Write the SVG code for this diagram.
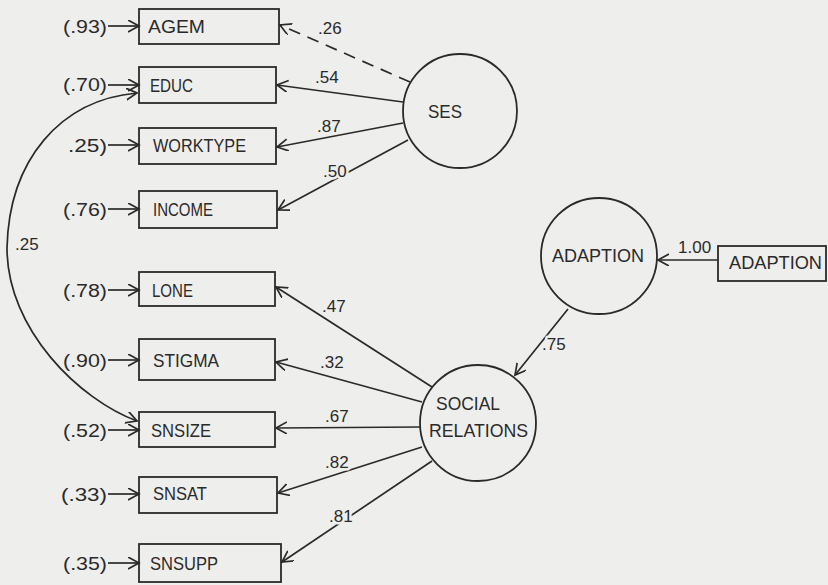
<svg xmlns="http://www.w3.org/2000/svg" width="828" height="585" viewBox="0 0 828 585">
<style>
.bg{fill:#eeeeec}
.box{fill:none;stroke:#2a2a2a;stroke-width:1.8}
.lat{fill:none;stroke:#2a2a2a;stroke-width:1.8}
.nl{font-family:"Liberation Sans",Arial,sans-serif;font-size:18px;fill:#2a2a2a}
.el{font-family:"Liberation Sans",Arial,sans-serif;font-size:18px;fill:#2a2a2a}
.cl{font-family:"Liberation Sans",Arial,sans-serif;font-size:17px;fill:#2a2a2a;paint-order:stroke;stroke:#eeeeec;stroke-width:5px;stroke-linejoin:round}
.ln{fill:none;stroke:#2a2a2a;stroke-width:1.7}
.dash{stroke-dasharray:12 8}
</style>
<defs>
<marker id="arr" markerUnits="userSpaceOnUse" markerWidth="14" markerHeight="14" refX="11" refY="6" orient="auto" viewBox="0 0 14 14">
<path d="M0,0 L11,6 L0,12" fill="none" stroke="#2a2a2a" stroke-width="1.7"/>
</marker>
</defs>
<rect class="bg" x="0" y="0" width="828" height="585"/>

<g id="connectors">
<line class="ln" x1="108" y1="26" x2="139" y2="26" marker-end="url(#arr)"/>
<line class="ln" x1="108" y1="85" x2="139" y2="85" marker-end="url(#arr)"/>
<line class="ln" x1="108" y1="145" x2="139" y2="145" marker-end="url(#arr)"/>
<line class="ln" x1="108" y1="209" x2="139" y2="209" marker-end="url(#arr)"/>
<line class="ln" x1="108" y1="290" x2="139" y2="290" marker-end="url(#arr)"/>
<line class="ln" x1="108" y1="360" x2="139" y2="360" marker-end="url(#arr)"/>
<line class="ln" x1="108" y1="430" x2="139" y2="430" marker-end="url(#arr)"/>
<line class="ln" x1="108" y1="494" x2="139" y2="494" marker-end="url(#arr)"/>
<line class="ln" x1="108" y1="563" x2="139" y2="563" marker-end="url(#arr)"/>
<path class="ln" d="M7,248 C9,160 60,100 137,93" marker-end="url(#arr)"/>
<path class="ln" d="M7,248 C7,330 80,400 137,421" marker-end="url(#arr)"/>
<line class="ln dash" x1="410" y1="82" x2="280" y2="25" marker-end="url(#arr)"/>
<line class="ln" x1="403" y1="102" x2="277" y2="85" marker-end="url(#arr)"/>
<line class="ln" x1="403" y1="123" x2="277" y2="147" marker-end="url(#arr)"/>
<line class="ln" x1="408" y1="140" x2="278" y2="210" marker-end="url(#arr)"/>
<line class="ln" x1="432" y1="387" x2="276" y2="287" marker-end="url(#arr)"/>
<line class="ln" x1="422" y1="402" x2="276" y2="362" marker-end="url(#arr)"/>
<line class="ln" x1="420" y1="427" x2="276" y2="428" marker-end="url(#arr)"/>
<line class="ln" x1="422" y1="447" x2="278" y2="493" marker-end="url(#arr)"/>
<line class="ln" x1="432" y1="461" x2="282" y2="562" marker-end="url(#arr)"/>
<line class="ln" x1="718" y1="260" x2="658" y2="260" marker-end="url(#arr)"/>
<line class="ln" x1="568" y1="309" x2="515" y2="375" marker-end="url(#arr)"/>
<text class="cl" x="318" y="34">.26</text>
<text class="cl" x="315" y="83">.54</text>
<text class="cl" x="317" y="132">.87</text>
<text class="cl" x="323" y="177">.50</text>
<text class="cl" x="15" y="250">.25</text>
<text class="cl" x="322" y="312">.47</text>
<text class="cl" x="320" y="368">.32</text>
<text class="cl" x="325" y="422">.67</text>
<text class="cl" x="325" y="468">.82</text>
<text class="cl" x="329" y="522">.81</text>
<text class="cl" x="678" y="253">1.00</text>
<text class="cl" x="542" y="350">.75</text>
</g>

<g id="e-agem"><text class="el" x="63" y="33" textLength="44" lengthAdjust="spacingAndGlyphs">(.93)</text></g>
<g id="e-educ"><text class="el" x="63" y="91" textLength="44" lengthAdjust="spacingAndGlyphs">(.70)</text></g>
<g id="e-worktype"><text class="el" x="68" y="152" textLength="39" lengthAdjust="spacingAndGlyphs">.25)</text></g>
<g id="e-income"><text class="el" x="63" y="216" textLength="44" lengthAdjust="spacingAndGlyphs">(.76)</text></g>
<g id="e-lone"><text class="el" x="63" y="297" textLength="44" lengthAdjust="spacingAndGlyphs">(.78)</text></g>
<g id="e-stigma"><text class="el" x="63" y="367" textLength="44" lengthAdjust="spacingAndGlyphs">(.90)</text></g>
<g id="e-snsize"><text class="el" x="63" y="437" textLength="44" lengthAdjust="spacingAndGlyphs">(.52)</text></g>
<g id="e-snsat"><text class="el" x="61" y="501" textLength="46" lengthAdjust="spacingAndGlyphs">(.33)</text></g>
<g id="e-snsupp"><text class="el" x="63" y="570" textLength="44" lengthAdjust="spacingAndGlyphs">(.35)</text></g>

<g id="agem"><rect class="box" x="139" y="9" width="140" height="35"/><text class="nl" x="148" y="33" textLength="57" lengthAdjust="spacingAndGlyphs">AGEM</text></g>
<g id="educ"><rect class="box" x="139" y="67" width="137" height="36"/><text class="nl" x="150" y="92" textLength="43" lengthAdjust="spacingAndGlyphs">EDUC</text></g>
<g id="worktype"><rect class="box" x="139" y="128" width="137" height="36"/><text class="nl" x="153" y="152" textLength="93" lengthAdjust="spacingAndGlyphs">WORKTYPE</text></g>
<g id="income"><rect class="box" x="139" y="191" width="138" height="37"/><text class="nl" x="153" y="216" textLength="60" lengthAdjust="spacingAndGlyphs">INCOME</text></g>
<g id="lone"><rect class="box" x="139" y="272" width="136" height="34"/><text class="nl" x="152" y="297" textLength="41" lengthAdjust="spacingAndGlyphs">LONE</text></g>
<g id="stigma"><rect class="box" x="139" y="339" width="136" height="41"/><text class="nl" x="153" y="367" textLength="66" lengthAdjust="spacingAndGlyphs">STIGMA</text></g>
<g id="snsize"><rect class="box" x="139" y="412" width="136" height="35"/><text class="nl" x="151" y="437" textLength="60" lengthAdjust="spacingAndGlyphs">SNSIZE</text></g>
<g id="snsat"><rect class="box" x="139" y="477" width="138" height="36"/><text class="nl" x="153" y="500" textLength="54" lengthAdjust="spacingAndGlyphs">SNSAT</text></g>
<g id="snsupp"><rect class="box" x="139" y="544" width="142" height="38"/><text class="nl" x="150" y="570" textLength="68" lengthAdjust="spacingAndGlyphs">SNSUPP</text></g>

<g id="ses"><circle class="lat" cx="460" cy="111" r="57"/><text class="nl" x="428" y="118" textLength="34" lengthAdjust="spacingAndGlyphs">SES</text></g>
<g id="social-relations"><circle class="lat" cx="478" cy="423" r="58"/><text class="nl" x="436" y="410" textLength="64" lengthAdjust="spacingAndGlyphs">SOCIAL</text><text class="nl" x="429" y="437" textLength="99" lengthAdjust="spacingAndGlyphs">RELATIONS</text></g>
<g id="adaption-latent"><circle class="lat" cx="599" cy="256" r="58"/><text class="nl" x="552" y="262" textLength="92" lengthAdjust="spacingAndGlyphs">ADAPTION</text></g>
<g id="adaption-observed"><rect class="box" x="718" y="246" width="108" height="35"/><text class="nl" x="729" y="269" textLength="93" lengthAdjust="spacingAndGlyphs">ADAPTION</text></g>
</svg>
